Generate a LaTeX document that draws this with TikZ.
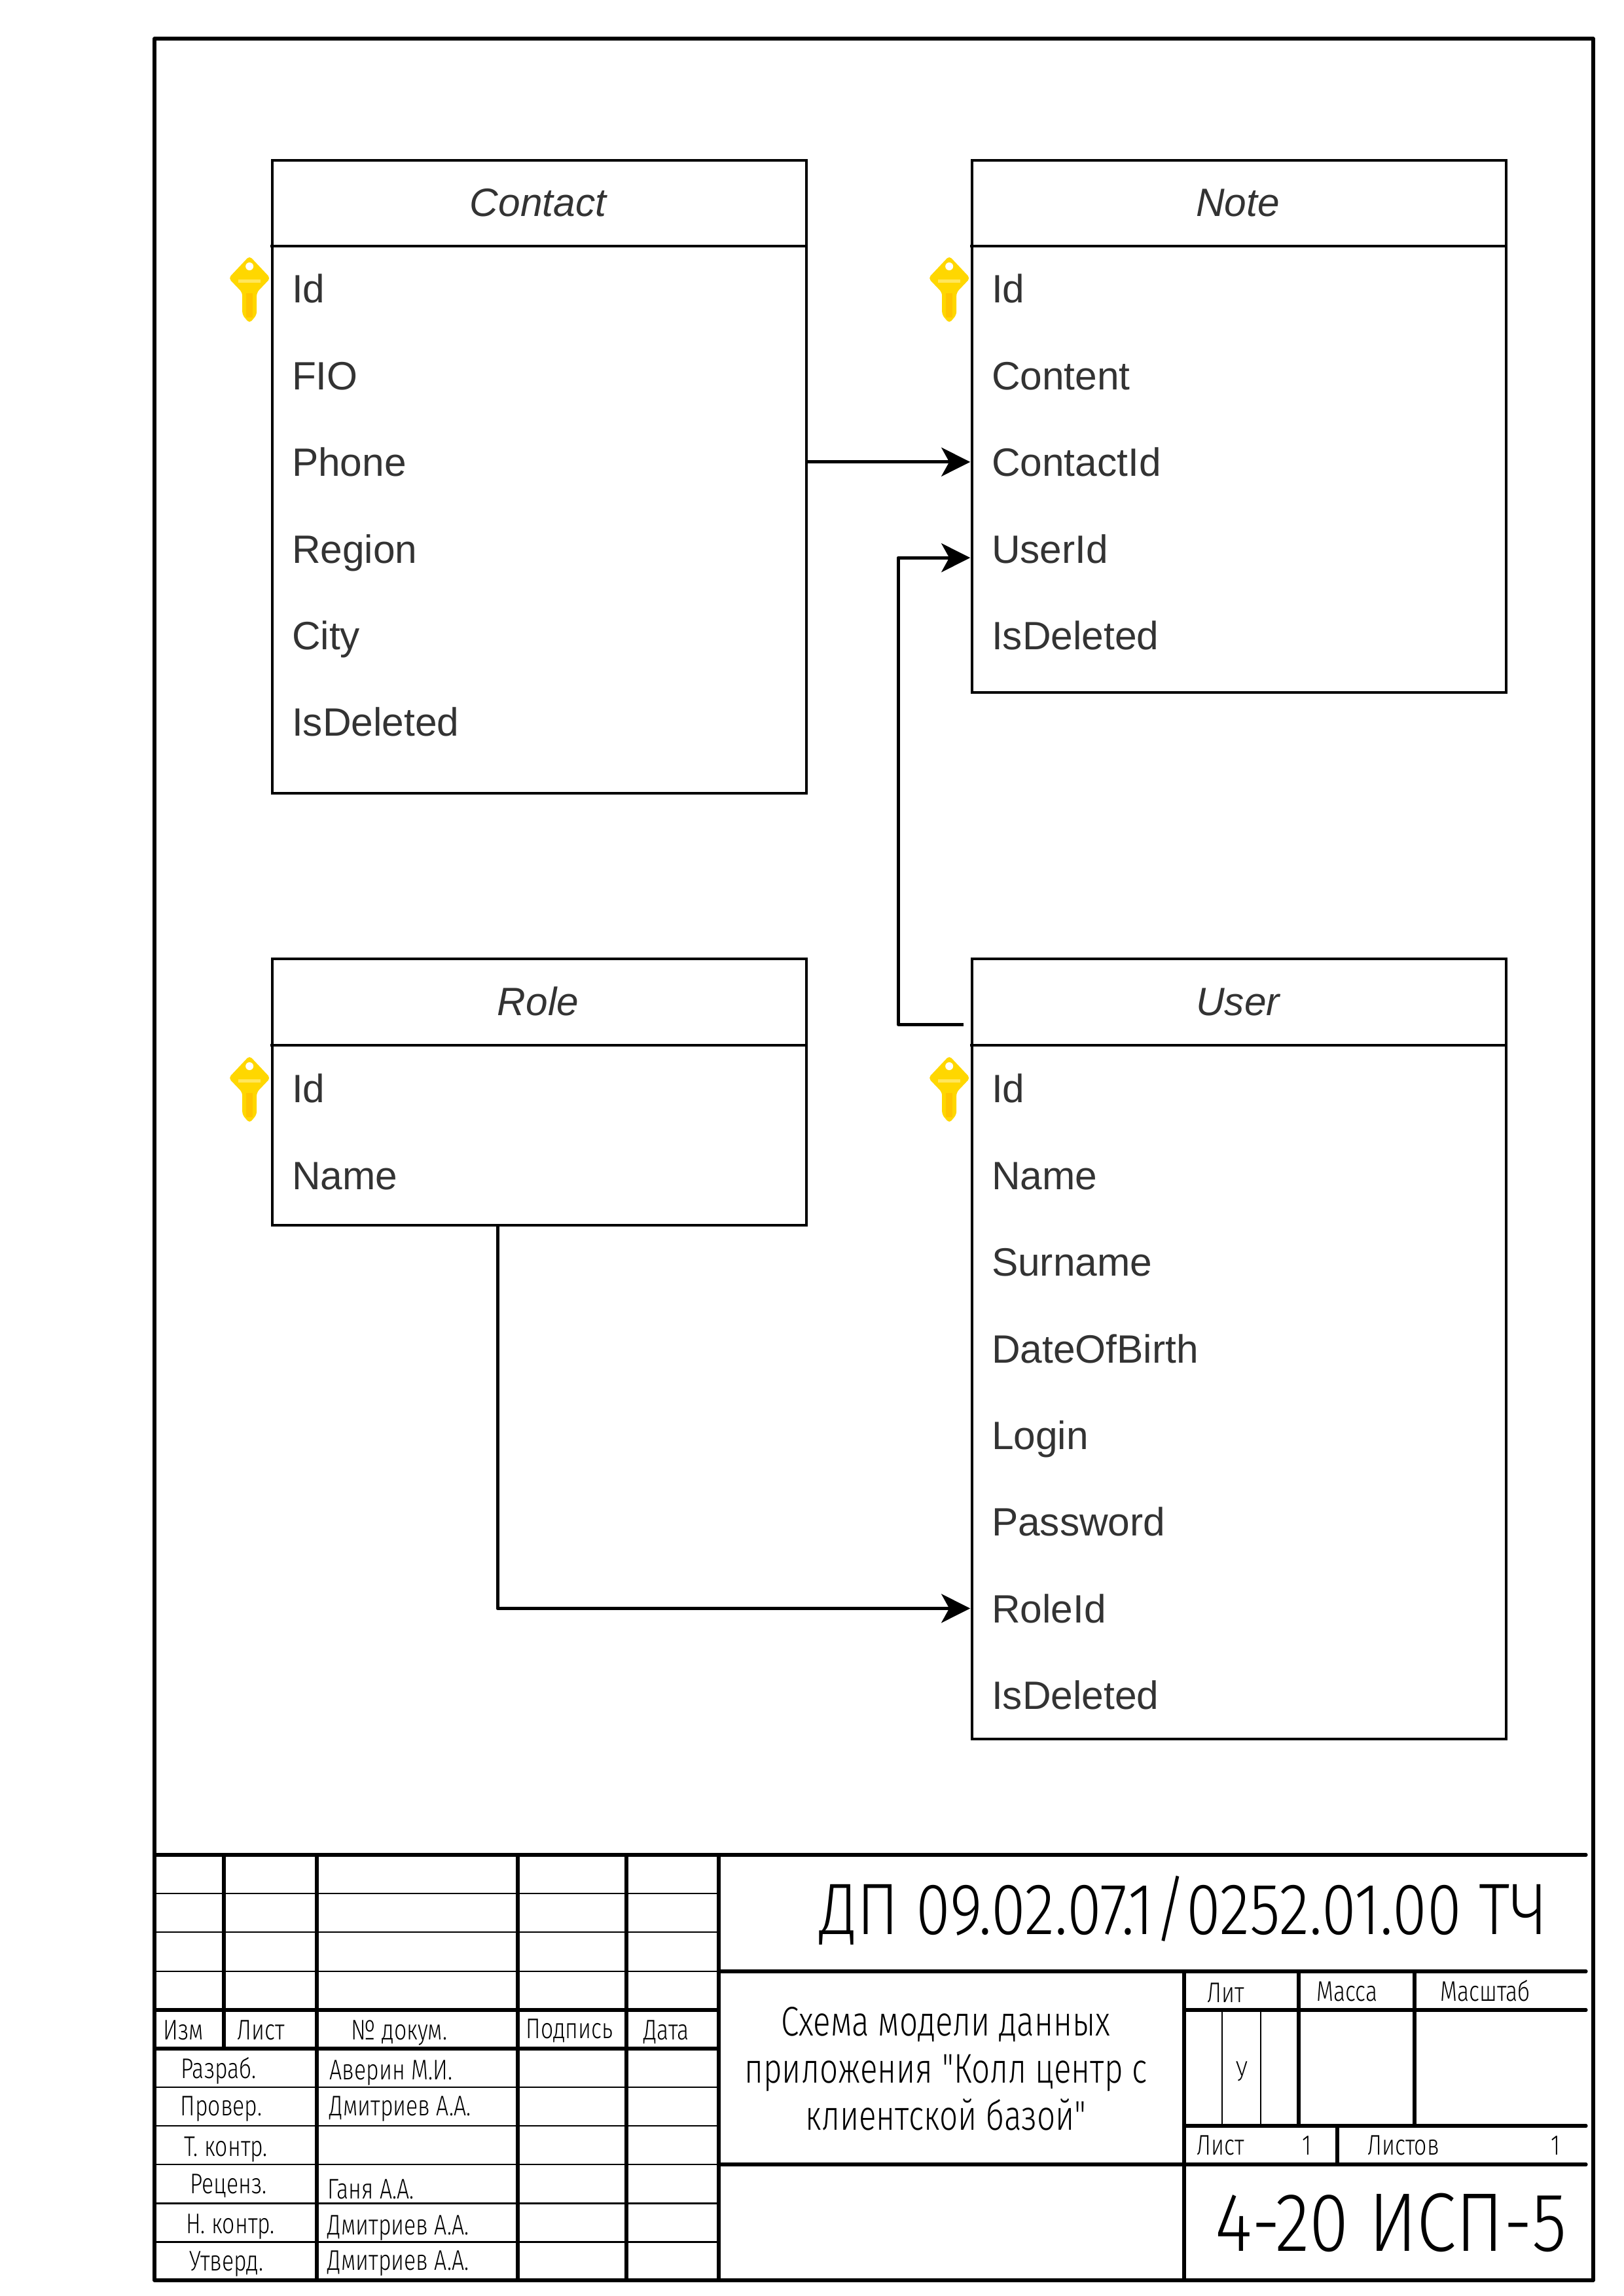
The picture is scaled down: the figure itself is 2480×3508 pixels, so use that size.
\documentclass[tikz,border=0pt]{standalone}
\usepackage{fontspec}
\usepackage{xcolor}
\usetikzlibrary{arrows.meta, calc}
\setmainfont{Liberation Sans}
\newfontfamily\gostfont[FakeStretch=0.78, UprightFont={* Light}]{Fira Sans}
\newfontfamily\gostbig[FakeStretch=0.86, UprightFont={* Light}]{Fira Sans}
\definecolor{keygold}{HTML}{FFD700}
\definecolor{keydark}{HTML}{FFC400}
\definecolor{keylight}{HTML}{FFE65C}
\definecolor{fieldtext}{HTML}{333333}
\newcommand{\pxunit}{0.24pt}

\begin{document}
\begin{tikzpicture}[x=0.24pt, y=-0.24pt,
    entitybox/.style={draw, line width=1pt, minimum width=816*\pxunit, inner sep=0pt, anchor=north west},
    entityline/.style={line width=1.1pt},
    fieldrow/.style={text width=752*\pxunit, inner xsep=32*\pxunit, inner ysep=0pt, minimum height=132*\pxunit,
        text height=10.5pt, text depth=0pt, align=left, text=fieldtext, font=\fontsize{14.5}{17}\selectfont},
    titlerow/.style={fieldrow, align=center, font=\fontsize{14.5}{17}\selectfont\itshape},
    conn/.style={line width=1.2pt, line join=round, -{Stealth[length=44*\pxunit, width=44*\pxunit, inset=12*\pxunit]}},
    heavyline/.style={line width=1.25pt, line cap=round},
    lightline/.style={line width=0.7pt},
    stamp/.style={inner sep=0pt, text height=7.5pt, text depth=0pt, font=\gostfont\fontsize{10.4}{12}\selectfont},
    keyicon/.pic={
        \fill[keygold, rounded corners=1.2pt] (0,-50) -- (32,-16) -- (11,6) -- (11,40) -- (0,53) -- (-11,40) -- (-11,6) -- (-32,-16) -- cycle;
        \fill[keydark] (-5,7) rectangle (5,44);
        \fill[keylight] (-17,-14) rectangle (17,-9);
        \fill[white] (0,-34) circle[radius=6];
    }]

    \useasboundingbox (0,0) rectangle (2480,3508);

    % Contact table
    \node[entitybox, minimum height=967*\pxunit] (contactBox) at (414,243) {};
    \node[titlerow] (contactTitle) at (822,309) {Contact};
    \draw[entityline] (contactTitle.south west) -- (contactTitle.south east);
    \foreach \fname [count=\i from 0] in {Id,FIO,Phone,Region,City,IsDeleted}
        \node[fieldrow] (contact\fname) at (822,{441+132.4*\i}) {\fname};

    % Note table
    \node[entitybox, minimum height=813*\pxunit] (noteBox) at (1483,243) {};
    \node[titlerow] (noteTitle) at (1891,309) {Note};
    \draw[entityline] (noteTitle.south west) -- (noteTitle.south east);
    \foreach \fname [count=\i from 0] in {Id,Content,ContactId,UserId,IsDeleted}
        \node[fieldrow] (note\fname) at (1891,{441+132.4*\i}) {\fname};

    % Role table
    \node[entitybox, minimum height=407*\pxunit] (roleBox) at (414,1463) {};
    \node[titlerow] (roleTitle) at (822,1530) {Role};
    \draw[entityline] (roleTitle.south west) -- (roleTitle.south east);
    \foreach \fname [count=\i from 0] in {Id,Name}
        \node[fieldrow] (role\fname) at (822,{1663+132.4*\i}) {\fname};

    % User table
    \node[entitybox, minimum height=1192*\pxunit] (userBox) at (1483,1463) {};
    \node[titlerow] (userTitle) at (1891,1530) {User};
    \draw[entityline] (userTitle.south west) -- (userTitle.south east);
    \foreach \fname [count=\i from 0] in {Id,Name,Surname,DateOfBirth,Login,Password,RoleId,IsDeleted}
        \node[fieldrow] (user\fname) at (1891,{1663+132.4*\i}) {\fname};

    % Keys next to the Id rows
    \pic at ($(contactId.west)+(-32,0)$) {keyicon};
    \pic at ($(noteId.west)+(-32,0)$) {keyicon};
    \pic at ($(roleId.west)+(-32,0)$) {keyicon};
    \pic at ($(userId.west)+(-32,0)$) {keyicon};

    % Connectors
    \coordinate (userStub) at (1472,1565);
    \coordinate (noteUserIn) at ($(noteUserId.west)+(0,14)$);
    \coordinate (roleOut) at (760,1870);
    \draw[conn] (contactPhone) -- (noteContactId);
    \draw[conn] (userStub) -- ++(-100,0) |- (noteUserIn);
    \draw[conn] (roleOut) |- (userRoleId);

    % Outer frame
    \draw[heavyline, line join=round] (236,59) rectangle (2434,3484);

    % Stamp: horizontal lines
    \foreach \ypos in {2893,2952,3012,3189,3248,3307,3366,3425}
        \draw[lightline] (236,\ypos) -- (1098,\ypos);
    \foreach \ypos in {2834,3071,3130}
        \draw[heavyline] (236,\ypos) -- (1098,\ypos);
    \draw[heavyline] (1098,2834) -- (2423,2834);
    \draw[heavyline] (1098,3012) -- (2423,3012);
    \draw[heavyline] (1098,3307) -- (2423,3307);
    \draw[heavyline] (1809,3071) -- (2423,3071);
    \draw[heavyline] (1809,3248) -- (2423,3248);

    % Stamp: vertical lines
    \draw[heavyline] (342,2834) -- (342,3130);
    \foreach \xpos in {484,791,957,1098}
        \draw[heavyline] (\xpos,2834) -- (\xpos,3484);
    \draw[heavyline] (1809,3012) -- (1809,3484);
    \draw[heavyline] (1984,3012) -- (1984,3248);
    \draw[heavyline] (2161,3012) -- (2161,3248);
    \draw[heavyline] (2043,3248) -- (2043,3307);
    \draw[lightline] (1867,3071) -- (1867,3248);
    \draw[lightline] (1926,3071) -- (1926,3248);

    % Stamp: column heads
    \node[stamp] (headIzm) at (280,3101) {Изм};
    \node[stamp] (headList) at (399,3101) {Лист};
    \node[stamp] (headDoc) at (610,3101) {№ докум.};
    \node[stamp] (headSign) at (870,3099) {Подпись};
    \node[stamp] (headDate) at (1018,3101) {Дата};

    % Stamp: roles
    \node[stamp] (rowDev) at (334,3160) {Разраб.};
    \node[stamp] (rowCheck) at (338,3217) {Провер.};
    \node[stamp] (rowTech) at (345,3279) {Т. контр.};
    \node[stamp] (rowReview) at (349,3336) {Реценз.};
    \node[stamp] (rowNorm) at (352,3397) {Н. контр.};
    \node[stamp] (rowAppr) at (346,3454) {Утверд.};

    % Stamp: names
    \node[stamp, anchor=west] (nameDev) at (503,3162) {Аверин М.И.};
    \node[stamp, anchor=west] (nameCheck) at (503,3217) {Дмитриев А.А.};
    \node[stamp, anchor=west] (nameReview) at (500,3344) {Ганя А.А.};
    \node[stamp, anchor=west] (nameNorm) at (500,3399) {Дмитриев А.А.};
    \node[stamp, anchor=west] (nameAppr) at (500,3453) {Дмитриев А.А.};

    % Stamp: right part
    \node[stamp] (headLit) at (1873,3044) {Лит};
    \node[stamp] (headMass) at (2058,3042) {Масса};
    \node[stamp] (headScale) at (2269,3042) {Масштаб};
    \node[stamp] (litValue) at (1897,3164) {У};
    \node[stamp] (sheetLabel) at (1865,3277) {Лист};
    \node[stamp] (sheetValue) at (1996,3277) {1};
    \node[stamp] (sheetsLabel) at (2144,3277) {Листов};
    \node[stamp] (sheetsValue) at (2376,3277) {1};

    % Stamp: big texts
    \node[stamp, text height=19pt, font=\gostbig\fontsize{26.7}{30}\selectfont] (docCode) at (1808,2916) {ДП 09.02.07.1/0252.01.00 ТЧ};
    \node[stamp, text height=21.6pt, font=\gostbig\fontsize{30.5}{34}\selectfont] (groupCode) at (2125,3394) {4-20 ИСП-5};
    \node[inner sep=0pt, align=center, font=\gostfont\fontsize{15.2}{17.3}\selectfont] (docTitle) at (1445,3161)
        {Схема модели данных\\приложения "Колл центр с\\клиентской базой"};

\end{tikzpicture}
\end{document}
